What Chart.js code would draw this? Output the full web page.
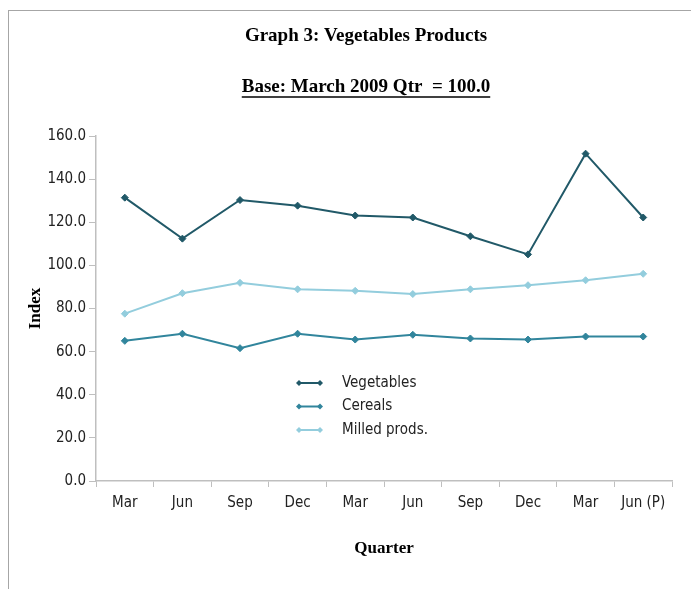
<!DOCTYPE html>
<html>
<head>
<meta charset="utf-8">
<script src="https://cdn.jsdelivr.net/npm/chart.js@4.4.1/dist/chart.umd.min.js"></script>
<style>
  html, body { margin: 0; padding: 0; background: #fff; }
  #wrap { position: relative; width: 691px; height: 589px; }
  #frame { position: absolute; left: 8px; top: 10px; right: 0; bottom: 0;
           border-top: 1px solid #a6a6a6; border-left: 1px solid #a6a6a6; }
  #grafico { position: absolute; left: 0; top: 0; }
</style>
</head>
<body>
<div id="wrap">
  <div id="frame"></div>
  <canvas id="grafico" width="691" height="589"></canvas>
</div>
<script>
const trimestres = ['Mar', 'Jun', 'Sep', 'Dec', 'Mar', 'Jun', 'Sep', 'Dec', 'Mar', 'Jun (P)'];
const vegetables = [131.4, 112.4, 130.3, 127.7, 123.1, 122.2, 113.5, 105.1, 151.8, 122.2];
const cereals = [65.0, 68.3, 61.6, 68.3, 65.6, 67.8, 66.1, 65.6, 67.0, 67.0];
const milledProds = [77.6, 87.1, 91.9, 88.9, 88.2, 86.7, 88.9, 90.8, 93.1, 96.1];
const yTicks = [0, 20, 40, 60, 80, 100, 120, 140, 160];

const titulo = 'Graph 3: Vegetables Products';
const subtitulo = 'Base: March 2009 Qtr  = 100.0';

const fonteTexto = '"Liberation Sans Narrow", "DejaVu Sans Condensed", sans-serif';
const fonteTitulo = '"Liberation Serif", serif';
const corEixo = '#bfbfbf';

function serie(label, dados, cor) {
  return {
    label: label,
    data: dados,
    borderColor: cor,
    backgroundColor: cor,
    borderWidth: 2,
    pointStyle: 'rectRot',
    pointRadius: 3.5,
    pointBorderWidth: 1,
    tension: 0
  };
}

// titles (second one underlined) + legend drawn inside the plot area
const extras = {
  id: 'extras',
  afterDraw(chart) {
    const ctx = chart.ctx;
    const cx = 366;
    ctx.save();
    ctx.fillStyle = '#000';
    ctx.textAlign = 'center';
    ctx.textBaseline = 'middle';
    ctx.font = 'bold 19px ' + fonteTitulo;
    ctx.fillText(titulo, cx, 36);
    ctx.fillText(subtitulo, cx, 87);
    const w = ctx.measureText(subtitulo).width;
    ctx.strokeStyle = '#000';
    ctx.lineWidth = 1.5;
    ctx.beginPath();
    ctx.moveTo(cx - w / 2, 97);
    ctx.lineTo(cx + w / 2, 97);
    ctx.stroke();

    // legend
    ctx.font = '15px ' + fonteTexto;
    ctx.textAlign = 'left';
    chart.data.datasets.forEach((ds, i) => {
      const y = 383 + i * 23.5;
      ctx.strokeStyle = ds.borderColor;
      ctx.fillStyle = ds.borderColor;
      ctx.lineWidth = 2;
      ctx.beginPath();
      ctx.moveTo(299, y);
      ctx.lineTo(320, y);
      ctx.stroke();
      [299, 320].forEach(px => {
        ctx.beginPath();
        ctx.moveTo(px, y - 3);
        ctx.lineTo(px + 3, y);
        ctx.lineTo(px, y + 3);
        ctx.lineTo(px - 3, y);
        ctx.closePath();
        ctx.fill();
      });
      ctx.fillStyle = '#222';
      ctx.fillText(ds.label, 342, y);
    });
    ctx.restore();
  }
};

const grafico = new Chart(document.querySelector('#grafico'), {
  type: 'line',
  data: {
    labels: trimestres,
    datasets: [
      serie('Vegetables', vegetables, '#215968'),
      serie('Cereals', cereals, '#31859c'),
      serie('Milled prods.', milledProds, '#93cddd')
    ]
  },
  options: {
    responsive: false,
    animation: false,
    layout: { padding: { left: 0, right: 19, top: 136, bottom: 0 } },
    plugins: {
      legend: { display: false },
      tooltip: { enabled: false }
    },
    scales: {
      x: {
        offset: true,
        grid: { offset: true, drawOnChartArea: false, drawTicks: true, tickLength: 6, color: corEixo },
        border: { color: corEixo, width: 1.5 },
        ticks: { color: '#222', font: { family: fonteTexto, size: 15 }, padding: 7, maxRotation: 0, autoSkip: false },
        title: {
          display: true,
          text: 'Quarter',
          color: '#000',
          font: { family: fonteTitulo, size: 17, weight: 'bold', lineHeight: 1.2 },
          padding: { top: 0, bottom: 30 }
        },
        afterFit(s) { s.height = 108; }
      },
      y: {
        min: 0,
        max: 160,
        afterBuildTicks(s) { s.ticks = yTicks.map(v => ({ value: v })); },
        grid: { drawOnChartArea: false, drawTicks: true, tickLength: 7, color: corEixo },
        border: { color: corEixo, width: 1.5 },
        ticks: {
          color: '#222',
          font: { family: fonteTexto, size: 15 },
          padding: 3,
          callback: v => Number(v).toFixed(1)
        },
        title: {
          display: true,
          text: 'Index',
          color: '#000',
          font: { family: fonteTitulo, size: 17, weight: 'bold', lineHeight: 1.2 },
          padding: { top: 25, bottom: 0 }
        },
        afterFit(s) { s.width = 96; }
      }
    }
  },
  plugins: [extras]
});
</script>
</body>
</html>
